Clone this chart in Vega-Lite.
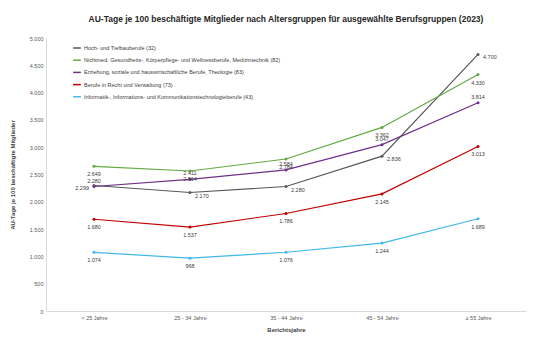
{
  "$schema": "https://vega.github.io/schema/vega-lite/v6.json",
  "autosize": "none",
  "width": 480,
  "height": 273,
  "padding": {"left": 46, "top": 38, "right": 8, "bottom": 34},
  "background": "white",
  "config": {
    "font": "Liberation Sans",
    "view": {"stroke": null},
    "locale": {"number": {"decimal": ",", "thousands": ".", "grouping": [3], "currency": ["", " €"]}}
  },
  "title": {
    "text": "AU-Tage je 100 beschäftigte Mitglieder nach Altersgruppen für ausgewählte Berufsgruppen (2023)",
    "fontSize": 8.5,
    "fontWeight": "bold",
    "color": "#262626",
    "anchor": "middle",
    "offset": 13
  },
  "data": {
    "values": [
      {"gruppe": "Hoch- und Tiefbauberufe (32)", "alter": "< 25 Jahre", "wert": 2299},
      {"gruppe": "Hoch- und Tiefbauberufe (32)", "alter": "25 - 34 Jahre", "wert": 2170},
      {"gruppe": "Hoch- und Tiefbauberufe (32)", "alter": "35 - 44 Jahre", "wert": 2280},
      {"gruppe": "Hoch- und Tiefbauberufe (32)", "alter": "45 - 54 Jahre", "wert": 2836},
      {"gruppe": "Hoch- und Tiefbauberufe (32)", "alter": "≥ 55 Jahre", "wert": 4700},
      {"gruppe": "Nichtmed. Gesundheits-, Körperpflege- und Wellnessberufe, Medizintechnik (82)", "alter": "< 25 Jahre", "wert": 2649},
      {"gruppe": "Nichtmed. Gesundheits-, Körperpflege- und Wellnessberufe, Medizintechnik (82)", "alter": "25 - 34 Jahre", "wert": 2564},
      {"gruppe": "Nichtmed. Gesundheits-, Körperpflege- und Wellnessberufe, Medizintechnik (82)", "alter": "35 - 44 Jahre", "wert": 2784},
      {"gruppe": "Nichtmed. Gesundheits-, Körperpflege- und Wellnessberufe, Medizintechnik (82)", "alter": "45 - 54 Jahre", "wert": 3362},
      {"gruppe": "Nichtmed. Gesundheits-, Körperpflege- und Wellnessberufe, Medizintechnik (82)", "alter": "≥ 55 Jahre", "wert": 4330},
      {"gruppe": "Erziehung, soziale und hauswirtschaftliche Berufe, Theologie (83)", "alter": "< 25 Jahre", "wert": 2280},
      {"gruppe": "Erziehung, soziale und hauswirtschaftliche Berufe, Theologie (83)", "alter": "25 - 34 Jahre", "wert": 2411},
      {"gruppe": "Erziehung, soziale und hauswirtschaftliche Berufe, Theologie (83)", "alter": "35 - 44 Jahre", "wert": 2584},
      {"gruppe": "Erziehung, soziale und hauswirtschaftliche Berufe, Theologie (83)", "alter": "45 - 54 Jahre", "wert": 3047},
      {"gruppe": "Erziehung, soziale und hauswirtschaftliche Berufe, Theologie (83)", "alter": "≥ 55 Jahre", "wert": 3814},
      {"gruppe": "Berufe in Recht und Verwaltung (73)", "alter": "< 25 Jahre", "wert": 1680},
      {"gruppe": "Berufe in Recht und Verwaltung (73)", "alter": "25 - 34 Jahre", "wert": 1537},
      {"gruppe": "Berufe in Recht und Verwaltung (73)", "alter": "35 - 44 Jahre", "wert": 1786},
      {"gruppe": "Berufe in Recht und Verwaltung (73)", "alter": "45 - 54 Jahre", "wert": 2145},
      {"gruppe": "Berufe in Recht und Verwaltung (73)", "alter": "≥ 55 Jahre", "wert": 3013},
      {"gruppe": "Informatik-, Informations- und Kommunikationstechnologieberufe (43)", "alter": "< 25 Jahre", "wert": 1074},
      {"gruppe": "Informatik-, Informations- und Kommunikationstechnologieberufe (43)", "alter": "25 - 34 Jahre", "wert": 968},
      {"gruppe": "Informatik-, Informations- und Kommunikationstechnologieberufe (43)", "alter": "35 - 44 Jahre", "wert": 1076},
      {"gruppe": "Informatik-, Informations- und Kommunikationstechnologieberufe (43)", "alter": "45 - 54 Jahre", "wert": 1244},
      {"gruppe": "Informatik-, Informations- und Kommunikationstechnologieberufe (43)", "alter": "≥ 55 Jahre", "wert": 1689}
    ]
  },
  "encoding": {
    "x": {
      "field": "alter",
      "type": "ordinal",
      "sort": ["< 25 Jahre", "25 - 34 Jahre", "35 - 44 Jahre", "45 - 54 Jahre", "≥ 55 Jahre"],
      "scale": {"type": "point", "padding": 0.5},
      "axis": {
        "title": "Berichtsjahre",
        "titleFontSize": 6,
        "titleFontWeight": "bold",
        "titleColor": "#404040",
        "titlePadding": 6,
        "labelAngle": 0,
        "labelFontSize": 5.5,
        "labelColor": "#595959",
        "labelPadding": 4,
        "ticks": false,
        "grid": false,
        "domainColor": "#d9d9d9"
      }
    },
    "y": {
      "field": "wert",
      "type": "quantitative",
      "scale": {"domain": [0, 5000], "nice": false},
      "axis": {
        "title": "AU-Tage je 100 beschäftigte Mitglieder",
        "titleFontSize": 6,
        "titleFontWeight": "bold",
        "titleColor": "#404040",
        "titlePadding": 14,
        "values": [0, 500, 1000, 1500, 2000, 2500, 3000, 3500, 4000, 4500, 5000],
        "format": ",d",
        "labelFontSize": 5.5,
        "labelColor": "#595959",
        "labelPadding": 3,
        "ticks": false,
        "grid": false,
        "domainColor": "#d9d9d9"
      }
    },
    "color": {
      "field": "gruppe",
      "type": "nominal",
      "scale": {
        "domain": [
          "Hoch- und Tiefbauberufe (32)",
          "Nichtmed. Gesundheits-, Körperpflege- und Wellnessberufe, Medizintechnik (82)",
          "Erziehung, soziale und hauswirtschaftliche Berufe, Theologie (83)",
          "Berufe in Recht und Verwaltung (73)",
          "Informatik-, Informations- und Kommunikationstechnologieberufe (43)"
        ],
        "range": ["#595959", "#62a844", "#702f8a", "#c00000", "#3fb8e8"]
      },
      "legend": {
        "title": null,
        "orient": "none",
        "legendX": 26,
        "legendY": 5,
        "labelFontSize": 5.5,
        "labelColor": "#404040",
        "labelLimit": 400,
        "symbolType": "stroke",
        "symbolSize": 60,
        "symbolStrokeWidth": 1.5,
        "rowPadding": 3.2,
        "labelOffset": 2
      }
    }
  },
  "layer": [
    {"mark": {"type": "line", "strokeWidth": 1.2, "point": {"size": 9, "filled": true}}},
    {
      "transform": [{"filter": "datum.gruppe === 'Hoch- und Tiefbauberufe (32)'"}],
      "mark": {
        "type": "text",
        "fontSize": 5.5,
        "align": {"expr": "datum.alter === '< 25 Jahre' ? 'right' : 'left'"},
        "dx": {"expr": "datum.alter === '< 25 Jahre' ? -5 : 5"},
        "dy": 3
      },
      "encoding": {"text": {"field": "wert", "type": "quantitative", "format": ",d"}, "color": {"value": "#404040"}}
    },
    {
      "transform": [{"filter": "datum.gruppe === 'Erziehung, soziale und hauswirtschaftliche Berufe, Theologie (83)'"}],
      "mark": {"type": "text", "fontSize": 5.5, "align": "center", "dy": -6},
      "encoding": {"text": {"field": "wert", "type": "quantitative", "format": ",d"}, "color": {"value": "#404040"}}
    },
    {
      "transform": [{"filter": "datum.gruppe !== 'Hoch- und Tiefbauberufe (32)' && datum.gruppe !== 'Erziehung, soziale und hauswirtschaftliche Berufe, Theologie (83)'"}],
      "mark": {"type": "text", "fontSize": 5.5, "align": "center", "dy": 8},
      "encoding": {"text": {"field": "wert", "type": "quantitative", "format": ",d"}, "color": {"value": "#404040"}}
    }
  ]
}
